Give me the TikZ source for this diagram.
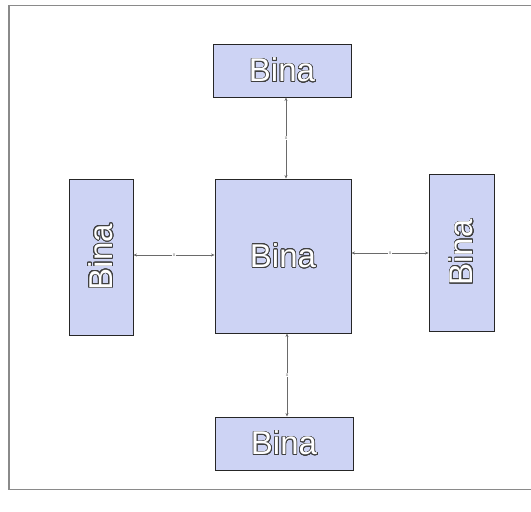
\documentclass[tikz,border=0pt]{standalone}
\usepackage{fontspec}
\setmainfont{Liberation Sans}
\usepackage{contour}
\contourlength{0.7pt}
\contournumber{24}
\usetikzlibrary{arrows.meta}
\definecolor{boxfill}{HTML}{CDD3F4}
\definecolor{framegray}{HTML}{8A8A8A}
\definecolor{linegray}{HTML}{6A6A6A}
\newcommand{\binatext}{\contour{black!75}{\textcolor{white}{Bina}}}
\tikzset{
  bbox/.style={draw=black!85, line width=0.9pt, fill=boxfill, inner sep=0pt,
    font=\fontsize{33}{36}\selectfont},
  conn/.style={draw=linegray, line width=0.7pt,
    {Stealth[length=3.5pt,width=3pt]}-{Stealth[length=3.5pt,width=3pt]}},
  lbl/.style={font=\fontsize{5}{6}\selectfont, text=linegray, inner sep=0.5pt, fill=white}
}
\begin{document}
\begin{tikzpicture}[x=1pt,y=1pt]
\useasboundingbox (0,0) rectangle (531,512);
\draw[framegray, line width=1pt] (531,506) -- (8,506) -- (8,22) -- (531,22);
\draw[framegray, line width=1pt] (9,506) -- (9,22);
\node[bbox, minimum width=138pt, minimum height=53pt] (top) at (282,441.5) {\binatext};
\node[bbox, minimum width=136pt, minimum height=154pt] (mid) at (283,256) {\binatext};
\node[bbox, minimum width=64pt, minimum height=156pt] (lft) at (101,255) {};
\node[rotate=90, font=\fontsize{33}{36}\selectfont, inner sep=0pt] (lftt) at (lft.center) {\binatext};
\node[bbox, minimum width=65pt, minimum height=157pt] (rgt) at (461.5,259.5) {};
\node[rotate=90, font=\fontsize{33}{36}\selectfont, inner sep=0pt] (rgtt) at (rgt.center) {\binatext};
\node[bbox, minimum width=138pt, minimum height=53pt] (bot) at (284,68.5) {\binatext};
\coordinate (cx1) at (286,0);
\coordinate (cx2) at (287,0);
\coordinate (cy1) at (0,257);
\coordinate (cy2) at (0,259);
\draw[conn] (top.south -| cx1) -- node[lbl] (l1) {x} (mid.north -| cx1);
\draw[conn] (lft.east |- cy1) -- node[lbl] (l2) {x} (mid.west |- cy1);
\draw[conn] (mid.east |- cy2) -- node[lbl] (l3) {x} (rgt.west |- cy2);
\draw[conn] (mid.south -| cx2) -- node[lbl] (l4) {x} (bot.north -| cx2);
\end{tikzpicture}
\end{document}
